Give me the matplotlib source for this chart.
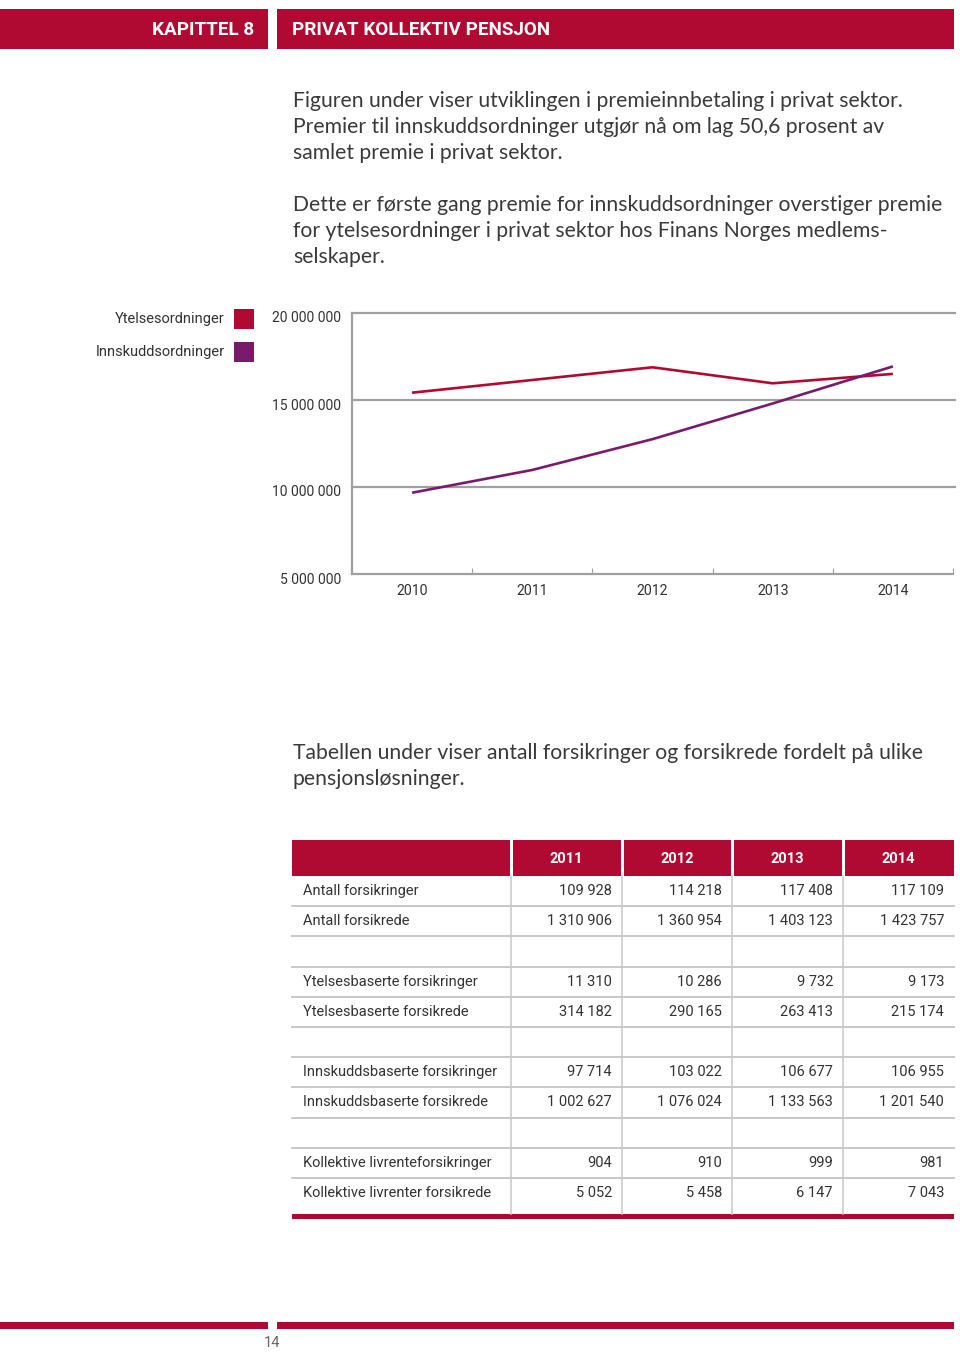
import matplotlib.pyplot as plt
from matplotlib.patches import Rectangle
from matplotlib.ticker import FixedLocator, FuncFormatter
from matplotlib.transforms import ScaledTranslation

RED = "#b00a32"
PURPLE = "#7a1a6c"
GREY = "#a0a0a0"
LIGHT = "#c8c8c8"
TEXT = "#333333"
NARROW = ["Roboto", "DejaVu Sans"]
BODY = ["Lato", "DejaVu Sans"]

# chart data (premium, NOK 1000)
years = [2010, 2011, 2012, 2013, 2014]
ytelses = [15.42e6, 16.15e6, 16.88e6, 15.96e6, 16.50e6]
innskudd = [9.67e6, 10.98e6, 12.75e6, 14.80e6, 16.93e6]
series_names = ["Ytelsesordninger", "Innskuddsordninger"]
y_ticks = [5e6, 10e6, 15e6, 20e6]

# table data
table_years = ["2011", "2012", "2013", "2014"]
row_labels = [
    "Antall forsikringer", "Antall forsikrede", None,
    "Ytelsesbaserte forsikringer", "Ytelsesbaserte forsikrede", None,
    "Innskuddsbaserte forsikringer", "Innskuddsbaserte forsikrede", None,
    "Kollektive livrenteforsikringer", "Kollektive livrenter forsikrede",
]
row_values = [
    [109928, 114218, 117408, 117109],
    [1310906, 1360954, 1403123, 1423757],
    None,
    [11310, 10286, 9732, 9173],
    [314182, 290165, 263413, 215174],
    None,
    [97714, 103022, 106677, 106955],
    [1002627, 1076024, 1133563, 1201540],
    None,
    [904, 910, 999, 981],
    [5052, 5458, 6147, 7043],
]

para1 = [
    "Figuren under viser utviklingen i premieinnbetaling i privat sektor.",
    "Premier til innskuddsordninger utgjør nå om lag 50,6 prosent av",
    "samlet premie i privat sektor.",
]
para2 = [
    "Dette er første gang premie for innskuddsordninger overstiger premie",
    "for ytelsesordninger i privat sektor hos Finans Norges medlems-",
    "selskaper.",
]
para3 = [
    "Tabellen under viser antall forsikringer og forsikrede fordelt på ulike",
    "pensjonsløsninger.",
]


def fmt(v):
    return f"{int(v):,}".replace(",", " ")


W, H = 960, 1352
fig = plt.figure(figsize=(W / 100, H / 100), dpi=100)
page = fig.add_axes([0, 0, 1, 1])
page.set_xlim(0, W)
page.set_ylim(H, 0)
page.axis("off")

# header bars
page.add_patch(Rectangle((0, 9), 268, 40, color=RED, lw=0))
page.add_patch(Rectangle((277, 9), 677, 40, color=RED, lw=0))
page.text(254, 30, "KAPITTEL 8", color="white", fontsize=13.6, fontweight="bold",
          family=NARROW, ha="right", va="center")
page.text(292, 30, "PRIVAT KOLLEKTIV PENSJON", color="white", fontsize=13.6,
          fontweight="bold", family=NARROW, ha="left", va="center")

# body text
for lines, y0 in [(para1, 107), (para2, 211), (para3, 759)]:
    for i, line in enumerate(lines):
        page.text(293, y0 + i * 26, line, color="#3a3a3a", fontsize=15.2,
                  family=BODY, ha="left", va="baseline")

# legend
for name, clr, yc in [(series_names[0], RED, 319), (series_names[1], PURPLE, 352)]:
    page.text(225, yc, name, color=TEXT, fontsize=10.5, family=NARROW,
              ha="right", va="center")
    page.add_patch(Rectangle((234, yc - 10), 20, 20, color=clr, lw=0))

# line chart
left, right, top, bottom = 352, 953, 313, 574
ax = fig.add_axes([left / W, 1 - bottom / H, (right - left) / W, (bottom - top) / H])
x = list(range(len(years)))
ax.set_xlim(-0.5, len(years) - 0.5)
ax.set_ylim(5e6, 20e6)
ax.patch.set_alpha(0)
for v in y_ticks[1:]:
    ax.axhline(v, xmin=0, xmax=1.003, color=GREY, lw=1.6, clip_on=False, zorder=1)
ax.plot(x, ytelses, color=RED, lw=1.9, zorder=3, solid_capstyle="butt")
ax.plot(x, innskudd, color=PURPLE, lw=1.9, zorder=4, solid_capstyle="butt")

for side in ["top", "right"]:
    ax.spines[side].set_visible(False)
for side in ["left", "bottom"]:
    ax.spines[side].set_color(GREY)
    ax.spines[side].set_linewidth(1.6)

ax.yaxis.set_major_locator(FixedLocator(y_ticks))
ax.yaxis.set_major_formatter(FuncFormatter(lambda v, _: fmt(v)))
ax.tick_params(axis="y", length=0, pad=8, labelsize=10, labelcolor=TEXT)
ax.set_xticks(x)
ax.set_xticklabels([str(y) for y in years])
ax.set_xticks([i + 0.5 for i in x], minor=True)
ax.tick_params(axis="x", which="major", length=0, pad=7, labelsize=10.2,
               labelcolor=TEXT)
ax.tick_params(axis="x", which="minor", direction="in", length=4.5, width=0.8,
               color=GREY)
shift = ScaledTranslation(0, -4 / 100, fig.dpi_scale_trans)
for lbl in ax.get_yticklabels():
    lbl.set_family(NARROW)
    lbl.set_transform(lbl.get_transform() + shift)
for lbl in ax.get_xticklabels():
    lbl.set_family(NARROW)

# table
col_edges = [292, 511, 622, 732, 843, 954]
head_top, head_bot = 840, 876
row_h = 30.2
gap = 1.5
for i in range(len(col_edges) - 1):
    x0 = col_edges[i] + (gap if i > 0 else 0)
    x1 = col_edges[i + 1] - (gap if i < len(col_edges) - 2 else 0)
    page.add_patch(Rectangle((x0, head_top), x1 - x0, head_bot - head_top,
                             color=RED, lw=0))
for i, yr in enumerate(table_years):
    xc = (col_edges[i + 1] + col_edges[i + 2]) / 2
    page.text(xc, (head_top + head_bot) / 2 + 1, yr, color="white", fontsize=10.5,
              fontweight="bold", family=NARROW, ha="center", va="center")

n_rows = len(row_labels)
table_bottom = head_bot + n_rows * row_h
for r in range(n_rows - 1):
    yl = head_bot + (r + 1) * row_h
    page.plot([col_edges[0], col_edges[-1]], [yl, yl], color=LIGHT, lw=1.4)
for xe in col_edges[1:-1]:
    page.plot([xe, xe], [head_bot, table_bottom + 6], color=LIGHT, lw=1.1)
page.add_patch(Rectangle((col_edges[0], table_bottom + 6), col_edges[-1] - col_edges[0],
                         5, color=RED, lw=0))

for r, (label, vals) in enumerate(zip(row_labels, row_values)):
    if label is None:
        continue
    yc = head_bot + (r + 0.5) * row_h
    page.text(303, yc, label, color=TEXT, fontsize=10.5, family=NARROW,
              ha="left", va="center")
    for i, v in enumerate(vals):
        page.text(col_edges[i + 2] - 10, yc, fmt(v), color=TEXT, fontsize=10.5,
                  family=NARROW, ha="right", va="center")

# footer
page.add_patch(Rectangle((0, 1322), 268, 7, color=RED, lw=0))
page.add_patch(Rectangle((277, 1322), 677, 7, color=RED, lw=0))
page.text(272, 1343, "14", color="#666666", fontsize=10.5, family=NARROW,
          ha="center", va="center")

fig.savefig("out.png", dpi=100)
